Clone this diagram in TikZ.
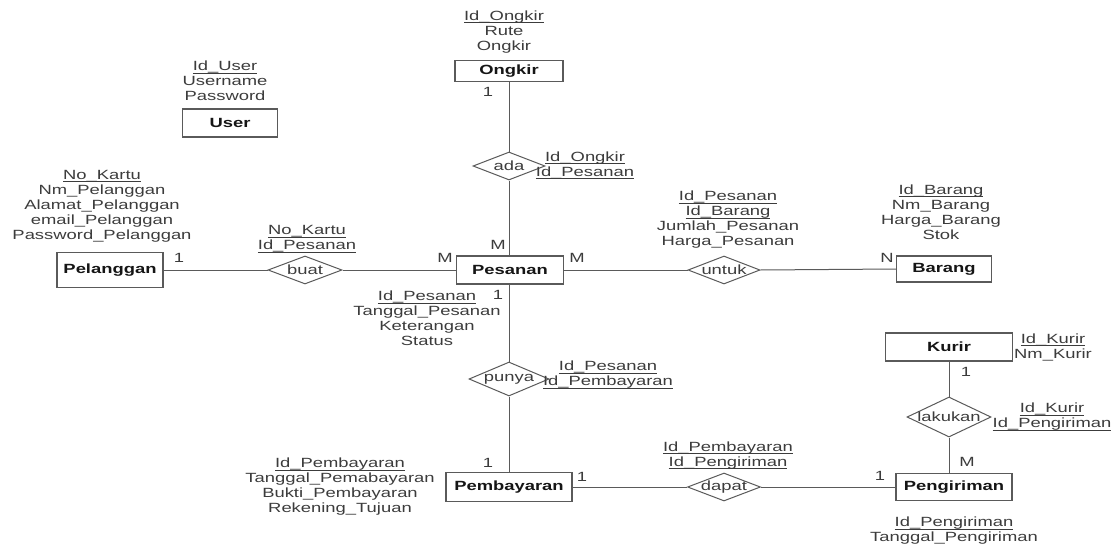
\documentclass[tikz,border=0pt]{standalone}
\usepackage{fontspec}
\setmainfont{Liberation Sans}[FakeStretch=1.38]
\usetikzlibrary{shapes.geometric}
\definecolor{inkA}{HTML}{3C3C3C}
\definecolor{inkB}{HTML}{151515}
\definecolor{edgec}{HTML}{5A5A5A}
% key attribute: text with a rule drawn just under the baseline
\newcommand{\pk}[1]{\setbox0=\hbox{#1}\rlap{\rule[-1.9pt]{\wd0}{0.55pt}}\box0}
\newcommand{\erfont}{\fontsize{10pt}{11.25pt}\selectfont}
\tikzset{
  entity/.style={draw=edgec, line width=0.9pt, fill=white, font=\erfont\bfseries, text=inkB, inner sep=0pt},
  rel/.style={diamond, draw=edgec, line width=0.75pt, fill=white, inner sep=0pt},
  reltext/.style={font=\erfont, text=inkA, inner sep=0pt},
  attrs/.style={align=center, font=\erfont, text=inkA, inner sep=0pt},
  card/.style={font=\erfont, text=inkA, inner sep=0pt},
  link/.style={draw=edgec, line width=0.75pt},
}
\begin{document}
\begin{tikzpicture}[x=0.75pt, y=-0.75pt]
\fill[white] (0,0) rectangle (1117,546);
\useasboundingbox (0,0) rectangle (1117,546);

% entities
\node[entity, minimum width=71.25pt, minimum height=21pt] (user) at (230,123) {User};
\node[entity, minimum width=79.5pt, minimum height=26.25pt] (pelanggan) at (110,270) {Pelanggan};
\node[entity, minimum width=81pt, minimum height=15.75pt] (ongkir) at (509,71) {Ongkir};
\node[entity, minimum width=80.25pt, minimum height=21pt] (pesanan) at (510,270) {Pesanan};
\node[entity, minimum width=71.25pt, minimum height=19.5pt] (barang) at (944,269) {Barang};
\node[entity, minimum width=94.5pt, minimum height=21.75pt] (pembayaran) at (509,487) {Pembayaran};
\node[entity, minimum width=87pt, minimum height=20.25pt] (pengiriman) at (954,487) {Pengiriman};
\node[entity, minimum width=95.25pt, minimum height=21pt] (kurir) at (949,347) {Kurir};

% relationships
\node[rel, minimum width=55.5pt, minimum height=21pt] (buat) at (305,270) {};
\node[rel, minimum width=54pt, minimum height=21pt] (ada) at (509,166) {};
\node[rel, minimum width=54pt, minimum height=21pt] (untuk) at (724,270) {};
\node[rel, minimum width=60pt, minimum height=25.5pt] (punya) at (509,379) {};
\node[rel, minimum width=54.75pt, minimum height=21pt] (dapat) at (724,487) {};
\node[rel, minimum width=63pt, minimum height=30pt] (lakukan) at (949,417) {};

% connectors
\draw[link] (ongkir.south) -- (ada.north);
\draw[link] (ada.south) -- (ada.south |- pesanan.north);
\draw[link] (pelanggan.east) -- (buat.west);
\draw[link] (buat.east) -- (pesanan.west);
\draw[link] (pesanan.east) -- (untuk.west);
\draw[link] (untuk.east) -- (barang.west);
\draw[link] (punya.north |- pesanan.south) -- (punya.north);
\draw[link] (punya.south) -- (pembayaran.north);
\draw[link] (pembayaran.east) -- (dapat.west);
\draw[link] (dapat.east) -- (pengiriman.west);
\draw[link] (kurir.south) -- (lakukan.north);
\draw[link] (lakukan.south) -- (lakukan.south |- pengiriman.north);

% relationship names
\node[reltext] (buat-t) at (buat) {buat};
\node[reltext] (ada-t) at (ada) {ada};
\node[reltext] (untuk-t) at (untuk) {untuk};
\node[reltext] (punya-t) at (punya) {punya};
\node[reltext] (dapat-t) at (dapat) {dapat};
\node[reltext] (lakukan-t) at (lakukan) {lakukan};

% attributes
\node[attrs] (user-a) at (225,81) {\pk{Id\_User}\\Username\\Password};
\node[attrs] (pelanggan-a) at (102,206) {\pk{No\_Kartu}\\Nm\_Pelanggan\\Alamat\_Pelanggan\\email\_Pelanggan\\Password\_Pelanggan};
\node[attrs] (buat-a) at (307,239) {\pk{No\_Kartu}\\\pk{Id\_Pesanan}};
\node[attrs] (ongkir-a) at (504,32) {\pk{Id\_Ongkir}\\Rute\\Ongkir};
\node[attrs] (ada-a) at (585,165) {\pk{Id\_Ongkir}\\\pk{Id\_Pesanan}};
\node[attrs] (pesanan-a) at (427,318.5) {\pk{Id\_Pesanan}\\Tanggal\_Pesanan\\Keterangan\\Status};
\node[attrs] (untuk-a) at (728,220) {\pk{Id\_Pesanan}\\\pk{Id\_Barang}\\Jumlah\_Pesanan\\Harga\_Pesanan};
\node[attrs] (barang-a) at (941,212) {\pk{Id\_Barang}\\Nm\_Barang\\Harga\_Barang\\Stok};
\node[attrs] (punya-a) at (608,375) {\pk{Id\_Pesanan}\\\pk{Id\_Pembayaran}};
\node[attrs] (pembayaran-a) at (340,487) {\pk{Id\_Pembayaran}\\Tanggal\_Pemabayaran\\Bukti\_Pembayaran\\Rekening\_Tujuan};
\node[attrs] (dapat-a) at (728,455.5) {\pk{Id\_Pembayaran}\\\pk{Id\_Pengiriman}};
\node[attrs] (pengiriman-a) at (954,531) {\pk{Id\_Pengiriman}\\Tanggal\_Pengiriman};
\node[attrs] (kurir-a) at (1053,347) {\pk{Id\_Kurir}\\Nm\_Kurir};
\node[attrs] (lakukan-a) at (1052,417) {\pk{Id\_Kurir}\\\pk{Id\_Pengiriman}};

% cardinalities
\node[card] (c1) at (179,258) {1};
\node[card] (c2) at (488,92) {1};
\node[card] (c3) at (498,245) {M};
\node[card] (c4) at (445,258) {M};
\node[card] (c5) at (577,258) {M};
\node[card] (c6) at (498,295) {1};
\node[card] (c7) at (887,258) {N};
\node[card] (c8) at (488,463) {1};
\node[card] (c9) at (582,477) {1};
\node[card] (c10) at (880,476) {1};
\node[card] (c11) at (966,372) {1};
\node[card] (c12) at (967,462) {M};
\end{tikzpicture}
\end{document}
